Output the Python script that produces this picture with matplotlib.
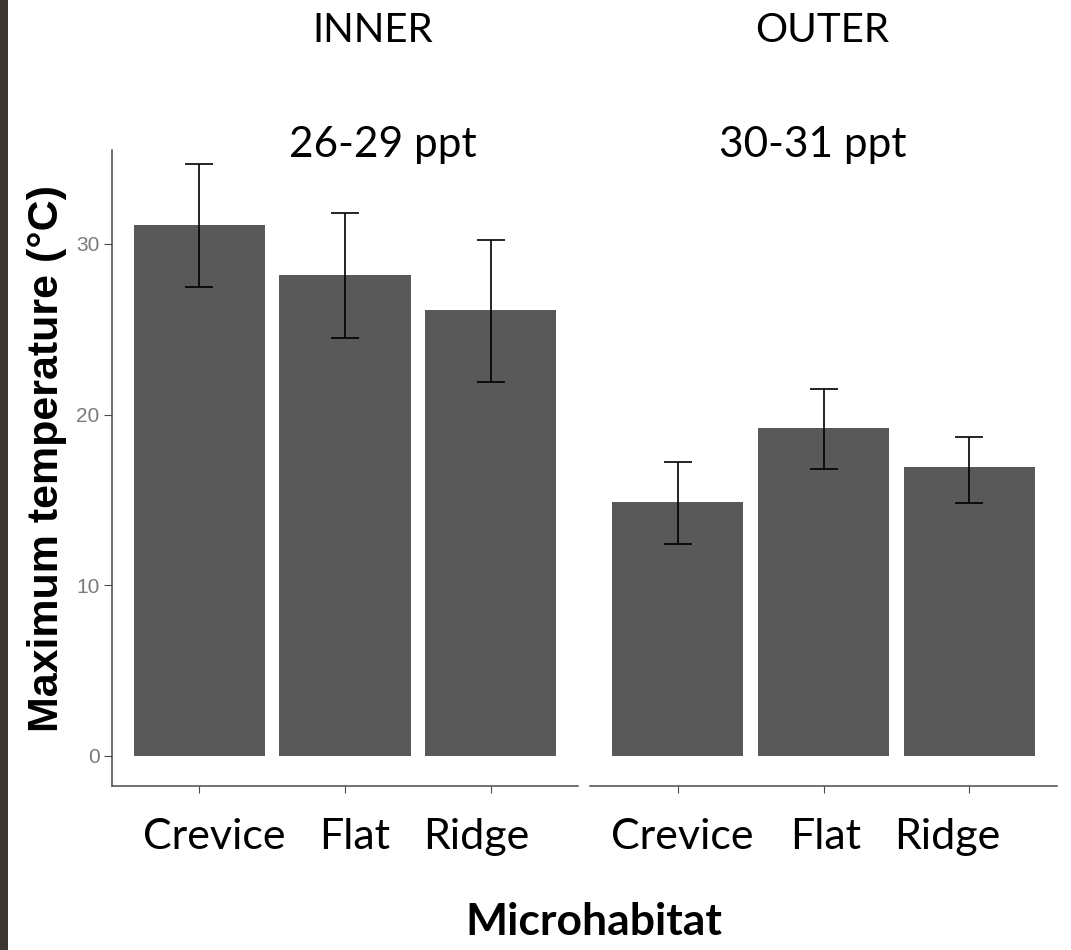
import numpy as np
import matplotlib
matplotlib.use('Agg')
import matplotlib.pyplot as plt
from matplotlib.patches import Rectangle
from matplotlib.transforms import ScaledTranslation

# data
habitats = ['Crevice', 'Flat', 'Ridge']
sites = ['INNER', 'OUTER']
salinity = ['26-29 ppt', '30-31 ppt']
inner_mean = [31.1, 28.2, 26.1]
inner_low = [27.5, 24.5, 21.9]
inner_high = [34.7, 31.8, 30.2]
outer_mean = [14.9, 19.2, 16.9]
outer_low = [12.4, 16.8, 14.8]
outer_high = [17.2, 21.5, 18.7]
y_ticks = [0, 10, 20, 30]

W, H = 1071, 950
fig = plt.figure(figsize=(W / 100, H / 100), dpi=100)
fig.patch.set_facecolor('white')

# dark strip at the left edge of the original image
fig.add_artist(Rectangle((0, 0), 8 / W, 1, transform=fig.transFigure,
                         facecolor='#3b3631', edgecolor='none'))

txt_font = ['Lato', 'DejaVu Sans']
bar_color = '#595959'
axis_color = '#4a4a4a'

# the category labels in the original were nudged by hand (pixels)
label_shift = [[15, 10, -14], [5, 2, -22]]


def px_axes(x0, x1, y0, y1):
    return fig.add_axes([x0 / W, (H - y1) / H, (x1 - x0) / W, (y1 - y0) / H])


panels = [
    (px_axes(112, 578, 150, 786), inner_mean, inner_low, inner_high),
    (px_axes(590, 1057, 150, 786), outer_mean, outer_low, outer_high),
]

for i, (ax, mean, low, high) in enumerate(panels):
    x = np.arange(len(habitats))
    mean = np.array(mean)
    yerr = [mean - np.array(low), np.array(high) - mean]
    ax.bar(x, mean, width=0.9, color=bar_color, edgecolor='none')
    ax.errorbar(x, mean, yerr=yerr, fmt='none', ecolor='black',
                elinewidth=1.2, capsize=10, capthick=1.2)
    ax.set_xlim(-0.6, 2.6)
    ax.set_ylim(-1.76, 35.5)
    ax.set_xticks(x)
    ax.set_xticklabels(habitats, fontsize=31, family=txt_font)
    ax.tick_params(axis='x', length=5, width=0.8, color=axis_color, pad=18)
    for lab, dx in zip(ax.get_xticklabels(), label_shift[i]):
        lab.set_transform(lab.get_transform() + ScaledTranslation(dx / 100, 0, fig.dpi_scale_trans))
    for s in ['top', 'right']:
        ax.spines[s].set_visible(False)
    ax.spines['bottom'].set_color(axis_color)
    ax.spines['bottom'].set_linewidth(1.1)
    if i == 0:
        ax.spines['left'].set_color(axis_color)
        ax.spines['left'].set_linewidth(1.1)
        ax.set_yticks(y_ticks)
        ax.tick_params(axis='y', length=6, width=0.8, color=axis_color,
                       labelsize=15, labelcolor='#7a7a7a', pad=3)
        for lab in ax.get_yticklabels():
            lab.set_family(['Liberation Sans Narrow', 'Liberation Sans', 'DejaVu Sans'])
    else:
        ax.spines['left'].set_visible(False)
        ax.set_yticks([])

# facet strip labels
fig.text(373 / W, 1 - 30 / H, sites[0], ha='center', va='center', fontsize=29, family=txt_font)
fig.text(822 / W, 1 - 30 / H, sites[1], ha='center', va='center', fontsize=29, family=txt_font)
fig.text(383 / W, 1 - 145 / H, salinity[0], ha='center', va='center', fontsize=30.5, family=txt_font)
fig.text(813 / W, 1 - 145 / H, salinity[1], ha='center', va='center', fontsize=30.5, family=txt_font)

fig.text(47 / W, 1 - 458 / H, 'Maximum temperature (°C)', rotation=90, ha='center', va='center',
         fontsize=31, fontweight='bold', family=['Liberation Sans', 'DejaVu Sans'])
fig.text(594 / W, 1 - 922 / H, 'Microhabitat', ha='center', va='center',
         fontsize=32, fontweight='bold', family=txt_font)

fig.savefig('out.png', dpi=100)
